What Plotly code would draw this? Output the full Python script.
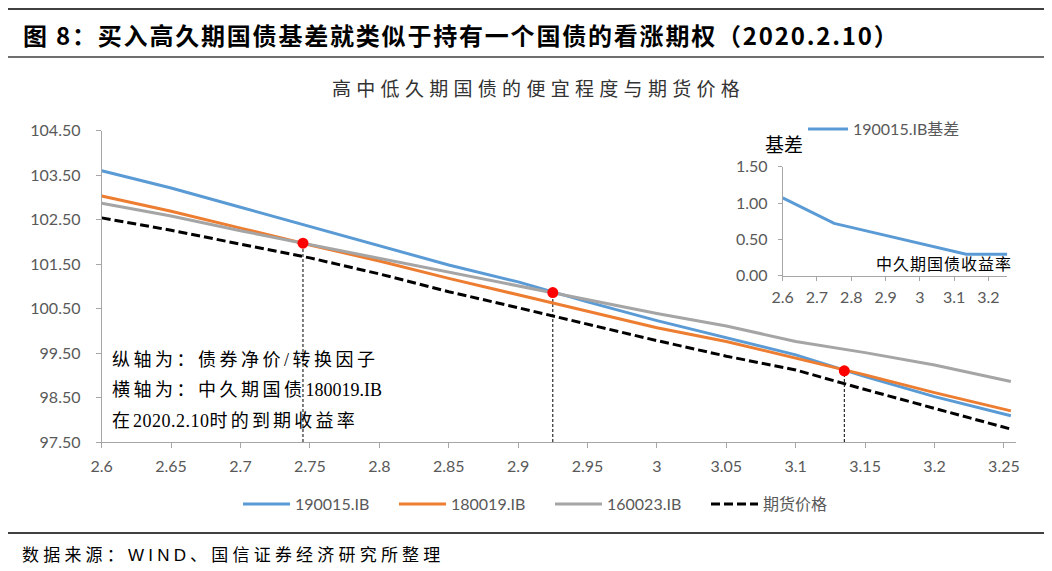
import plotly.graph_objects as go

# ---------------- data ----------------
yields = [2.6, 2.65, 2.7, 2.75, 2.8, 2.85, 2.9, 2.95, 3.0, 3.05, 3.1, 3.15, 3.2, 3.255]
bond_190015 = [103.60, 103.21, 102.78, 102.35, 101.91, 101.48, 101.10, 100.65, 100.23, 99.85, 99.46, 98.97, 98.52, 98.09]
bond_180019 = [103.03, 102.69, 102.31, 101.93, 101.57, 101.18, 100.81, 100.44, 100.07, 99.76, 99.38, 99.01, 98.61, 98.20]
bond_160023 = [102.87, 102.58, 102.25, 101.94, 101.64, 101.33, 101.01, 100.70, 100.39, 100.11, 99.76, 99.51, 99.23, 98.86]
futures = [102.54, 102.26, 101.95, 101.64, 101.28, 100.88, 100.52, 100.15, 99.78, 99.43, 99.12, 98.68, 98.26, 97.79]

dot_x = [2.745, 2.925, 3.135]
dot_y = [101.97, 100.86, 99.10]

basis_x = [2.6, 2.65, 2.7, 2.75, 2.8, 2.85, 2.9, 2.95, 3.0, 3.05, 3.1, 3.135, 3.255]
basis_190015 = [1.07, 0.95, 0.835, 0.72, 0.665, 0.61, 0.55, 0.49, 0.445, 0.385, 0.335, 0.295, 0.295]

x_tickvals = [2.6, 2.65, 2.7, 2.75, 2.8, 2.85, 2.9, 2.95, 3.0, 3.05, 3.1, 3.15, 3.2, 3.25]
x_ticktext = ["2.6", "2.65", "2.7", "2.75", "2.8", "2.85", "2.9", "2.95", "3", "3.05", "3.1", "3.15", "3.2", "3.25"]
inset_tickvals = [2.6, 2.7, 2.8, 2.9, 3.0, 3.1, 3.2]
inset_ticktext = ["2.6", "2.7", "2.8", "2.9", "3", "3.1", "3.2"]

series_names = ["190015.IB", "180019.IB", "160023.IB", "期货价格"]
basis_name = "190015.IB基差"

# ---------------- styling ----------------
W, H = 1052, 571
OFF = 8  # page offset of the figure (default body margin)
BLUE, ORANGE, GRAY = "#5B9BD5", "#ED7D31", "#A5A5A5"
AXIS = "#A6A6A6"
TICKFONT = dict(family="Lato, Noto Sans CJK SC", size=16, color="#595959")
CJK = "Noto Sans CJK SC"
SERIF_CJK = "Liberation Serif, Noto Sans CJK SC"
SANS_CJK = "Liberation Sans, Noto Sans CJK SC"


def px(x):
    return (x - OFF) / W


def py(y):
    return 1 - (y - OFF) / H


def spaced(s, ls):
    return '<span style="letter-spacing:%spx">%s</span>' % (ls, s)


fig = go.Figure()

for vals, name, color, dash in [
    (bond_190015, series_names[0], BLUE, "solid"),
    (bond_180019, series_names[1], ORANGE, "solid"),
    (bond_160023, series_names[2], GRAY, "solid"),
    (futures, series_names[3], "#000000", "9px,4px"),
]:
    fig.add_trace(go.Scatter(x=yields, y=vals, name=name, mode="lines",
                             line=dict(color=color, width=3, dash=dash),
                             xaxis="x", yaxis="y", legend="legend"))

fig.add_trace(go.Scatter(x=dot_x, y=dot_y, mode="markers", showlegend=False,
                         marker=dict(color="#FF0000", size=11),
                         xaxis="x", yaxis="y"))

fig.add_trace(go.Scatter(x=basis_x, y=basis_190015, name=basis_name, mode="lines",
                         line=dict(color=BLUE, width=3),
                         xaxis="x2", yaxis="y2", legend="legend2"))

# vertical dotted guides from the dots to the x axis
for xv, yv in zip(dot_x, dot_y):
    fig.add_shape(type="line", xref="x", yref="y", x0=xv, x1=xv, y0=97.5, y1=yv,
                  line=dict(color="#000000", width=1, dash="3px,2px"), layer="below")

# decorative rules
fig.add_shape(type="line", xref="paper", yref="paper", x0=px(0), x1=px(1048), y0=py(9), y1=py(9),
              line=dict(color="#000000", width=1.5))
fig.add_shape(type="line", xref="paper", yref="paper", x0=px(0), x1=px(1048), y0=py(57), y1=py(57),
              line=dict(color="#3F3F3F", width=1.5))
fig.add_shape(type="line", xref="paper", yref="paper", x0=px(0), x1=px(1060), y0=py(533), y1=py(533),
              line=dict(color="#000000", width=1.5))

annotations = [
    dict(text='<b>' + spaced("图 8：买入高久期国债基差就类似于持有一个国债的看涨期权（2020.2.10）", 1.8) + '</b>',
         x=px(21), y=py(34), xanchor="left", yanchor="middle",
         font=dict(family=CJK, size=24, color="#000000")),
    dict(text=spaced("高中低久期国债的便宜程度与期货价格", 5.3),
         x=px(538), y=py(90), xanchor="center", yanchor="middle",
         font=dict(family=SERIF_CJK, size=19, color="#333333")),
    dict(text=spaced("纵轴为：债券净价/转换因子", 3.5),
         x=px(110), y=py(360), xanchor="left", yanchor="middle",
         font=dict(family=SERIF_CJK, size=18, color="#000000")),
    dict(text=spaced("横轴为：中久期国债", 3.5) + spaced("180019.IB", 0),
         x=px(110), y=py(390), xanchor="left", yanchor="middle",
         font=dict(family=SERIF_CJK, size=18, color="#000000")),
    dict(text=spaced("在", 3) + spaced("2020.2.10", 0.5) + spaced("时的到期收益率", 3.2),
         x=px(110), y=py(421), xanchor="left", yanchor="middle",
         font=dict(family=SERIF_CJK, size=18, color="#000000")),
    dict(text="基差", x=px(763), y=py(145), xanchor="left", yanchor="middle",
         font=dict(family=SERIF_CJK, size=19, color="#000000")),
    dict(text=spaced("中久期国债收益率", 1),
         x=px(1014), y=py(264), xanchor="right", yanchor="middle",
         font=dict(family=SERIF_CJK, size=16, color="#000000")),
    dict(text=spaced("数据来源：WIND、国信证券经济研究所整理", 4.2),
         x=px(20), y=py(555), xanchor="left", yanchor="middle",
         font=dict(family=SANS_CJK, size=17, color="#000000")),
]
for a in annotations:
    a.update(xref="paper", yref="paper", showarrow=False)

fig.update_layout(
    width=W, height=H,
    margin=dict(l=0, r=0, t=0, b=0, pad=0, autoexpand=False),
    paper_bgcolor="white", plot_bgcolor="white",
    annotations=annotations,
    showlegend=True,
    xaxis=dict(domain=[px(101.7), px(1016)], range=[2.6, 3.2587],
               tickvals=x_tickvals, ticktext=x_ticktext,
               showgrid=False, zeroline=False, showline=True, linecolor=AXIS, linewidth=1,
               ticks="outside", ticklen=5, tickcolor=AXIS, tickfont=TICKFONT,
               ticklabelstandoff=5, automargin=False),
    yaxis=dict(domain=[py(442), py(130.7)], range=[97.5, 104.5],
               tick0=97.5, dtick=1, tickformat=".2f",
               showgrid=False, zeroline=False, showline=True, linecolor=AXIS, linewidth=1,
               ticks="outside", ticklen=5, tickcolor=AXIS, tickfont=TICKFONT,
               ticklabelstandoff=12, automargin=False),
    xaxis2=dict(domain=[px(782.7), px(1007.3)], range=[2.6, 3.255], anchor="y2",
                tickvals=inset_tickvals, ticktext=inset_ticktext,
                showgrid=False, zeroline=False, showline=True, linecolor=AXIS, linewidth=1,
                ticks="outside", ticklen=4, tickcolor=AXIS, tickfont=TICKFONT,
                ticklabelstandoff=3, automargin=False),
    yaxis2=dict(domain=[py(275.7), py(166.7)], range=[0, 1.5], anchor="x2",
                tickvals=[0, 0.5, 1.0, 1.5], tickformat=".2f",
                showgrid=False, zeroline=False, showline=True, linecolor=AXIS, linewidth=1,
                ticks="outside", ticklen=4, tickcolor=AXIS, tickfont=TICKFONT,
                ticklabelstandoff=7, automargin=False),
    legend=dict(orientation="h", x=px(238), y=py(504), xanchor="left", yanchor="middle",
                font=dict(family="Lato, Noto Sans CJK SC", size=16, color="#595959"),
                entrywidth=94, entrywidthmode="pixels", itemwidth=47,
                bgcolor="rgba(0,0,0,0)"),
    legend2=dict(orientation="h", x=px(803), y=py(129), xanchor="left", yanchor="middle",
                 font=dict(family="Lato, Noto Sans CJK SC", size=16, color="#595959"),
                 itemwidth=40, bgcolor="rgba(0,0,0,0)"),
)

fig.write_html("out.html")
